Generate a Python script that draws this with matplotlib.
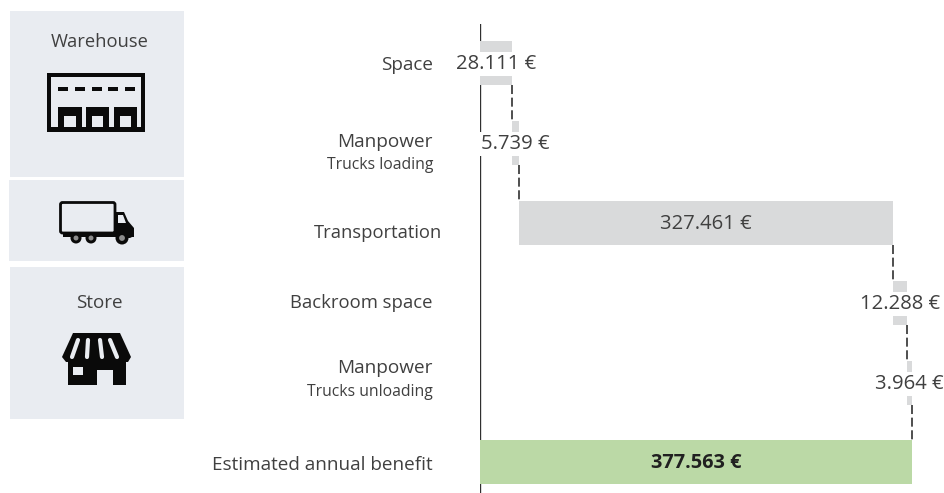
import matplotlib
matplotlib.use("Agg")
import matplotlib.pyplot as plt
from matplotlib.patches import Rectangle, Polygon, Circle, FancyBboxPatch
import numpy as np

plt.rcParams['font.family'] = ['Open Sans', 'DejaVu Sans']

# Datos del grafico
categorias = ["Space", "Manpower", "Transportation", "Backroom space", "Manpower", "Estimated annual benefit"]
subetiquetas = ["", "Trucks loading", "", "", "Trucks unloading", ""]
valores = [28111, 5739, 327461, 12288, 3964]
total = 377563
etiquetas = ["28.111 €", "5.739 €", "327.461 €", "12.288 €", "3.964 €", "377.563 €"]

GRIS = "#D9DADB"
VERDE = "#BBD9A6"
TEXTO = "#404040"
PANEL = "#E9ECF1"
NEGRO = "#0A0A0A"

W, H = 944, 493
fig = plt.figure(figsize=(W / 100, H / 100), dpi=100)

# Capa en pixeles para paneles e iconos
bg = fig.add_axes([0, 0, 1, 1])
bg.set_xlim(0, W)
bg.set_ylim(H, 0)
bg.axis("off")


def rect(x0, y0, x1, y1, color, z=2):
    bg.add_patch(Rectangle((x0, y0), x1 - x0, y1 - y0, fc=color, ec="none", zorder=z))


rect(10, 11, 184, 177, PANEL, 1)
rect(9, 180, 184, 261, PANEL, 1)
rect(10, 267, 184, 419, PANEL, 1)

bg.text(99.5, 42, "Warehouse", ha="center", va="center", fontsize=13.2, color=TEXTO)
bg.text(99, 303, "Store", ha="center", va="center", fontsize=13.6, color=TEXTO)

# Icono almacen
rect(47, 73, 145, 132, NEGRO)
rect(51, 77, 141, 127, PANEL, 3)
for x in [58, 75, 92, 108, 125]:
    rect(x, 87, x + 10, 91, NEGRO, 4)
for x0, x1 in [(58, 82), (86, 109), (114, 137)]:
    rect(x0, 107, x1, 128, NEGRO, 4)
    rect(x0 + 6, 116, x1 - 6, 127, PANEL, 5)

# Icono camion
bg.add_patch(FancyBboxPatch((60.5, 202.5), 54.5, 30.5, boxstyle="round,pad=0,rounding_size=2",
                            fc=PANEL, ec=NEGRO, lw=2, zorder=3))
bg.add_patch(Polygon([(116, 212), (124, 212), (128, 221), (134, 228), (134, 236), (130, 238), (116, 238)],
                     fc=NEGRO, ec="none", zorder=3))
bg.add_patch(Polygon([(118, 215), (123, 215), (126, 223), (118, 223)], fc=PANEL, ec="none", zorder=4))
rect(63, 232, 134, 237, NEGRO, 3)
for x, r in [(76, 5.5), (91, 5.5), (122, 6.5)]:
    bg.add_patch(Circle((x, 238), r, fc=NEGRO, ec="none", zorder=4))
    bg.add_patch(Circle((x, 238), r * 0.45, fc="#8C8C8C", ec="none", zorder=5))

# Icono tienda
bg.add_patch(Polygon([(73, 333), (120, 333), (131, 357), (128, 362), (66, 362), (62, 357)],
                     fc=NEGRO, ec="none", zorder=3))
for xa, xb in [(78, 72), (88, 87), (100, 102), (110, 117)]:
    bg.plot([xa, xb], [340, 357], color=PANEL, lw=3, zorder=4, solid_capstyle="round")
rect(68, 358, 126, 385, NEGRO, 3)
rect(73, 367, 83, 375, PANEL, 4)
rect(97, 370, 113, 385, PANEL, 4)

# Textos de categorias
pos_cat = [65, 142, 233, 303, 368, 465]
pos_sub = [0, 165, 0, 0, 392, 0]
der_cat = [433, 433, 442, 433, 433, 433]
tam_cat = [13.6, 13.7, 13.2, 13.3, 13.7, 13.6]
for c, s, yc, ys, xd, tam in zip(categorias, subetiquetas, pos_cat, pos_sub, der_cat, tam_cat):
    bg.text(xd, yc, c, ha="right", va="center", fontsize=tam, color=TEXTO)
    if s:
        bg.text(433, ys, s, ha="right", va="center", fontsize=11.3, color=TEXTO)

# Cascada
x0_px, escala = 480, 432 / total
ax = fig.add_axes([x0_px / W, 0, 1 - x0_px / W, (H - 24) / H])
ax.patch.set_alpha(0)
ax.set_xlim(0, (W - x0_px) / escala)
ax.set_ylim((H - 63) / 80, -(63 - 24) / 80)
ax.axis("off")
ax.axvline(0, color="#303030", lw=1.7, zorder=1)

izq = np.concatenate([[0], np.cumsum(valores)[:-1]])
y = np.arange(len(valores))
ax.barh(y, valores, left=izq, height=0.55, color=GRIS, zorder=2)
ax.barh(len(valores) - 0.01, total, height=0.55, color=VERDE, zorder=2)

# Conectores discontinuos
fin = izq + np.array(valores)
for i, x in enumerate(fin):
    ax.plot([x, x], [i + 0.275, i + 1 - 0.275], color="#404040", lw=1.3, ls=(0, (5, 2)), zorder=3)

# Etiquetas de valor
for i, (iz, v, e) in enumerate(zip(izq, valores, etiquetas)):
    caja = None if i == 2 else dict(fc="white", ec="none", pad=1.5)
    ax.text(iz + v / 2, i + 0.012, e, ha="center", va="center", fontsize=14.6, color=TEXTO, bbox=caja, zorder=4)
ax.text(total / 2, 5, etiquetas[5], ha="center", va="center", fontsize=14.4,
        color="#202020", fontweight="bold", zorder=4)

fig.savefig("out.png", dpi=100)
